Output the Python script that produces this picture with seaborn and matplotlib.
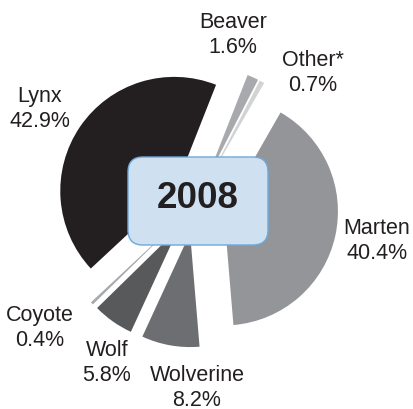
import matplotlib
matplotlib.use("Agg")
import matplotlib.pyplot as plt
from matplotlib.patches import FancyBboxPatch
import seaborn as sns

# data (clockwise from the top)
species = ["Beaver", "Other*", "Marten", "Wolverine", "Wolf", "Coyote", "Lynx"]
shares = [1.6, 0.7, 40.4, 8.2, 5.8, 0.4, 42.9]
year = "2008"

# styling
colors = ["#a7a9ac", "#d1d3d4", "#939598", "#6d6e71", "#58595b", "#a7a9ac", "#231f20"]
explode = [0.23, 0.23, 0.26, 0.25, 0.25, 0.25, 0.22]
label_xy = [(233, 374), (313, 336), (377, 168), (197, 21), (107, 46), (40, 81), (40, 300)]
radius = 114

sns.set_theme(style="white")
plt.rcParams["font.family"] = ["Liberation Sans", "DejaVu Sans"]

fig = plt.figure(figsize=(4.13, 4.09), dpi=100)
ax = fig.add_axes([0, 0, 1, 1])

# explode is in data units in matplotlib, so scale by the radius
ax.pie(shares, colors=colors, explode=[e * radius for e in explode],
       startangle=68.5, counterclock=False, center=(195, 204), radius=radius,
       wedgeprops=dict(linewidth=0))

# pie() resets the limits, so set them afterwards
ax.set_xlim(0, 413)
ax.set_ylim(0, 409)
ax.set_aspect("equal")
ax.axis("off")

for name, val, (x, y) in zip(species, shares, label_xy):
    ax.text(x, y, f"{name}\n{val}%", ha="center", va="center",
            fontsize=15.5, color="#231f20", linespacing=1.2)

box = FancyBboxPatch((128, 164), 140, 88, boxstyle="round,pad=0,rounding_size=15",
                     facecolor="#cfe0f1", edgecolor="#6fa8dc", linewidth=1.0, zorder=5)
ax.add_patch(box)
ax.text(198, 210, year, ha="center", va="center", fontsize=26.5,
        fontweight="bold", color="#231f20", zorder=6)

fig.savefig("out.png", dpi=100)
